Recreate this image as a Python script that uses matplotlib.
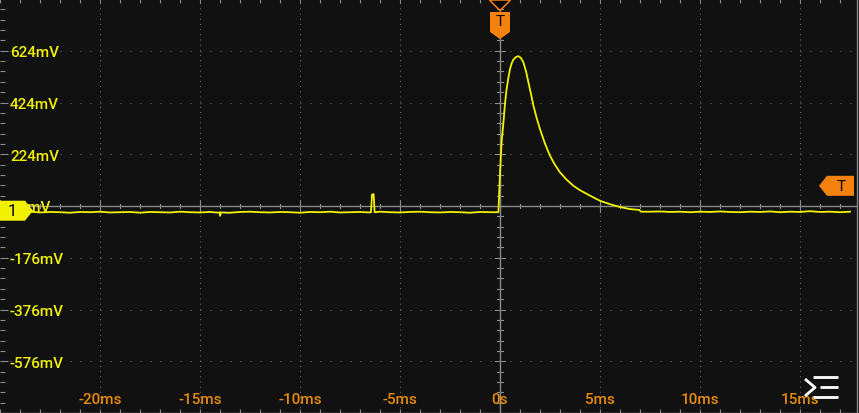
import numpy as np
import matplotlib
matplotlib.use("Agg")
import matplotlib.pyplot as plt
from matplotlib.patches import Polygon
import matplotlib.transforms as mtrans

plt.rcParams['font.family'] = ['Roboto', 'DejaVu Sans']
plt.rcParams['lines.scale_dashes'] = False

# ---------------- data ----------------
y_tick_vals = [624, 424, 224, 24, -176, -376, -576]
y_tick_labels = ["624mV", "424mV", "224mV", "24mV", "-176mV", "-376mV", "-576mV"]
x_tick_vals = [-20, -15, -10, -5, 0, 5, 10, 15]
x_tick_labels = ["-20ms", "-15ms", "-10ms", "-5ms", "0s", "5ms", "10ms", "15ms"]

# baseline before trigger (ms, mV)
base_t = np.arange(-25.0, -0.3, 0.5)
base_v = [1, -1, 0, 2, -1, 1, 0, -2, 1, 0,
          2, -1, 0, 1, -2, 1, 0, -1, 2, 0,
          -1, 1, 0, -2, 1, 2, 0, -1, 1, 0,
          -2, 1, 0, 2, -1, 0, 1, -1, 2, 0,
          -1, 1, 2, 0, -1, 1, 0, -2, 1, 0]
# glitches in baseline
glitch_t = [-14.05, -14.0, -13.95, -6.45, -6.40, -6.32, -6.27]
glitch_v = [-2, -14, -1, 0, 68, 70, 0]
# pulse after trigger
pulse_t = [-0.08, 0.0, 0.08, 0.17, 0.25, 0.33, 0.42, 0.5, 0.58, 0.67, 0.8, 0.92,
           1.05, 1.17, 1.3, 1.42, 1.55, 1.67, 1.83, 2.0, 2.25, 2.5, 2.75, 3.0,
           3.33, 3.67, 4.0, 4.5, 5.0, 5.5, 6.0, 6.5, 6.95, 7.05]
pulse_v = [0, 150, 270, 345, 420, 476, 520, 553, 575, 590, 600, 603,
           596, 579, 545, 502, 457, 412, 365, 321, 265, 218, 183, 154,
           126, 102, 85, 64, 44, 31, 20, 12, 9, 2]
# baseline after pulse
tail_t = np.arange(7.5, 17.9, 0.5)
tail_v = [2, 3, 1, 2, 0, 2, 1, 3, 1, 0, 2, 1, 3, 0, 2, 1, 4, 1, 2, 0, 2]

trig_time = 0.0      # ms
trig_level = 102.0   # mV
ch_ground = 0.0      # mV

# --------------- figure ---------------
W, H = 859, 414
X0 = -25.0
X1 = X0 + 857 / 20.0
Y0, Y1 = -776.0, 824.0
MV_PER_PX = (Y1 - Y0) / H
MS_PER_PX = 1 / 20.0

BG = '#111111'
GRAY = '#8a8a8a'
DOT = '#6c6c6c'
YEL = '#f2f200'
ORG_TXT = '#e88a0c'
ORG = '#f5820f'

fig = plt.figure(figsize=(W / 100, H / 100), dpi=100, facecolor=BG)
ax = fig.add_axes([0, 0, 857 / W, 1])
ax.set_facecolor(BG)
ax.set_xlim(X0, X1)
ax.set_ylim(Y0, Y1)


def P(xd, yd, dpx, dpy):
    """data anchor + pixel offset (dpy positive = down)"""
    return (xd + dpx * MS_PER_PX, yd - dpy * MV_PER_PX)


# axis ticks along the edges
ax.set_xticks(x_tick_vals)
ax.set_xticks(np.arange(-25, 18, 1), minor=True)
ax.set_yticks(y_tick_vals)
ax.set_yticks(np.arange(-736, 824, 40), minor=True)
ax.tick_params(axis='x', which='both', direction='in', top=True, bottom=True,
               length=2.9, width=0.8, color=GRAY, labelbottom=False)
ax.tick_params(axis='y', which='minor', direction='in', left=True, right=False,
               length=3.6, width=0.8, color=GRAY)
ax.tick_params(axis='y', which='major', direction='in', left=True, right=False,
               length=5.8, width=0.8, color=GRAY, labelleft=False)
for s in ['left', 'top']:
    ax.spines[s].set_visible(False)
for s in ['bottom', 'right']:
    ax.spines[s].set_color(GRAY)
    ax.spines[s].set_linewidth(1.0)

# dotted grid
for v in x_tick_vals:
    if v != 0:
        ax.axvline(v, color=DOT, lw=0.75, ls=(0, (0.75, 2.98)), zorder=1)
for v in y_tick_vals:
    if v != 24:
        ax.axhline(v, color=DOT, lw=0.75, ls=(0, (0.75, 6.45)), zorder=1)

# center lines with ticks
ax.axhline(24, color=GRAY, lw=1.0, zorder=2)
ax.axvline(0, color=GRAY, lw=1.0, zorder=2)
minor_x = np.arange(-25, 18, 1)
for xv in minor_x:
    half = 6 if xv % 5 == 0 else 2.2
    ax.plot([xv, xv], [24 - half * MV_PER_PX, 24 + half * MV_PER_PX],
            color=GRAY, lw=0.8, zorder=2)
for yv in np.arange(-736, 824, 40):
    half = 5 if (yv - 24) % 200 == 0 else 2.7
    ax.plot([-half * MS_PER_PX, half * MS_PER_PX], [yv, yv],
            color=GRAY, lw=0.8, zorder=2)

# trace
t_all = np.concatenate([base_t, glitch_t, pulse_t, tail_t])
v_all = np.concatenate([base_v, glitch_v, pulse_v, tail_v])
order = np.argsort(t_all, kind='stable')
ax.plot(t_all[order], v_all[order], color=YEL, lw=1.3, zorder=5,
        solid_joinstyle='round')

# y labels
ytr = mtrans.blended_transform_factory(ax.transAxes, ax.transData) + \
    mtrans.ScaledTranslation(0, -0.055, fig.dpi_scale_trans)
for v, lab in zip(y_tick_vals, y_tick_labels):
    ax.text(10 / 857, v, lab, transform=ytr, color=YEL, fontsize=11,
            fontweight='medium', ha='left', va='baseline', zorder=6)

# x labels
xtr = mtrans.blended_transform_factory(ax.transData, ax.transAxes)
for v, lab in zip(x_tick_vals, x_tick_labels):
    ax.text(v, (H - 404) / H, lab, transform=xtr, color=ORG_TXT, fontsize=11,
            fontweight='medium', ha='center', va='baseline', zorder=3)

# channel 1 marker
cy = -1.5
verts = [P(X0, ch_ground, dx, dy + cy) for dx, dy in
         [(0, -10), (25, -10), (33, 0), (25, 10), (0, 10)]]
ax.add_patch(Polygon(verts, closed=True, facecolor=YEL, edgecolor='none', zorder=8))
ax.text(*P(X0, ch_ground, 12, cy), "1", color='black', fontsize=12,
        ha='center', va='center', zorder=9)

# top trigger marker
verts = [P(trig_time, Y1, dx, dy) for dx, dy in
         [(-10, 13), (10, 13), (10, 33), (0, 40), (-10, 33)]]
ax.add_patch(Polygon(verts, closed=True, facecolor=ORG, edgecolor='none', zorder=8))
ax.text(*P(trig_time, Y1, 0, 22), "T", color='black', fontsize=11,
        ha='center', va='center', zorder=9)
verts = [P(trig_time, Y1, dx, dy) for dx, dy in [(-10.5, 1.0), (10.5, 1.0), (0, 11.5)]]
ax.add_patch(Polygon(verts, closed=True, facecolor='black', edgecolor=ORG,
                     lw=1.1, zorder=8, clip_on=False))

# right trigger level marker
verts = [P(X1, trig_level, dx, dy) for dx, dy in
         [(-38, 0), (-30, -10), (-3, -10), (-3, 10), (-30, 10)]]
ax.add_patch(Polygon(verts, closed=True, facecolor=ORG, edgecolor='none', zorder=8))
ax.text(*P(X1, trig_level, -16, 0), "T", color='black', fontsize=11,
        ha='center', va='center', zorder=9)

# menu icon (bottom right)
def PX(px, py):
    return (X0 + px * MS_PER_PX, Y1 - py * MV_PER_PX)

icon = [[(805, 380), (815, 388.5), (805, 397)],
        [(813, 377.5), (838, 377.5)],
        [(820, 387.8), (838, 387.8)],
        [(813, 398), (838, 398)]]
for seg in icon:
    xs, ys = zip(*[PX(a, b) for a, b in seg])
    ax.plot(xs, ys, color='white', lw=2.0, solid_capstyle='butt', zorder=10)

fig.savefig("out.png", dpi=100, facecolor=BG)
